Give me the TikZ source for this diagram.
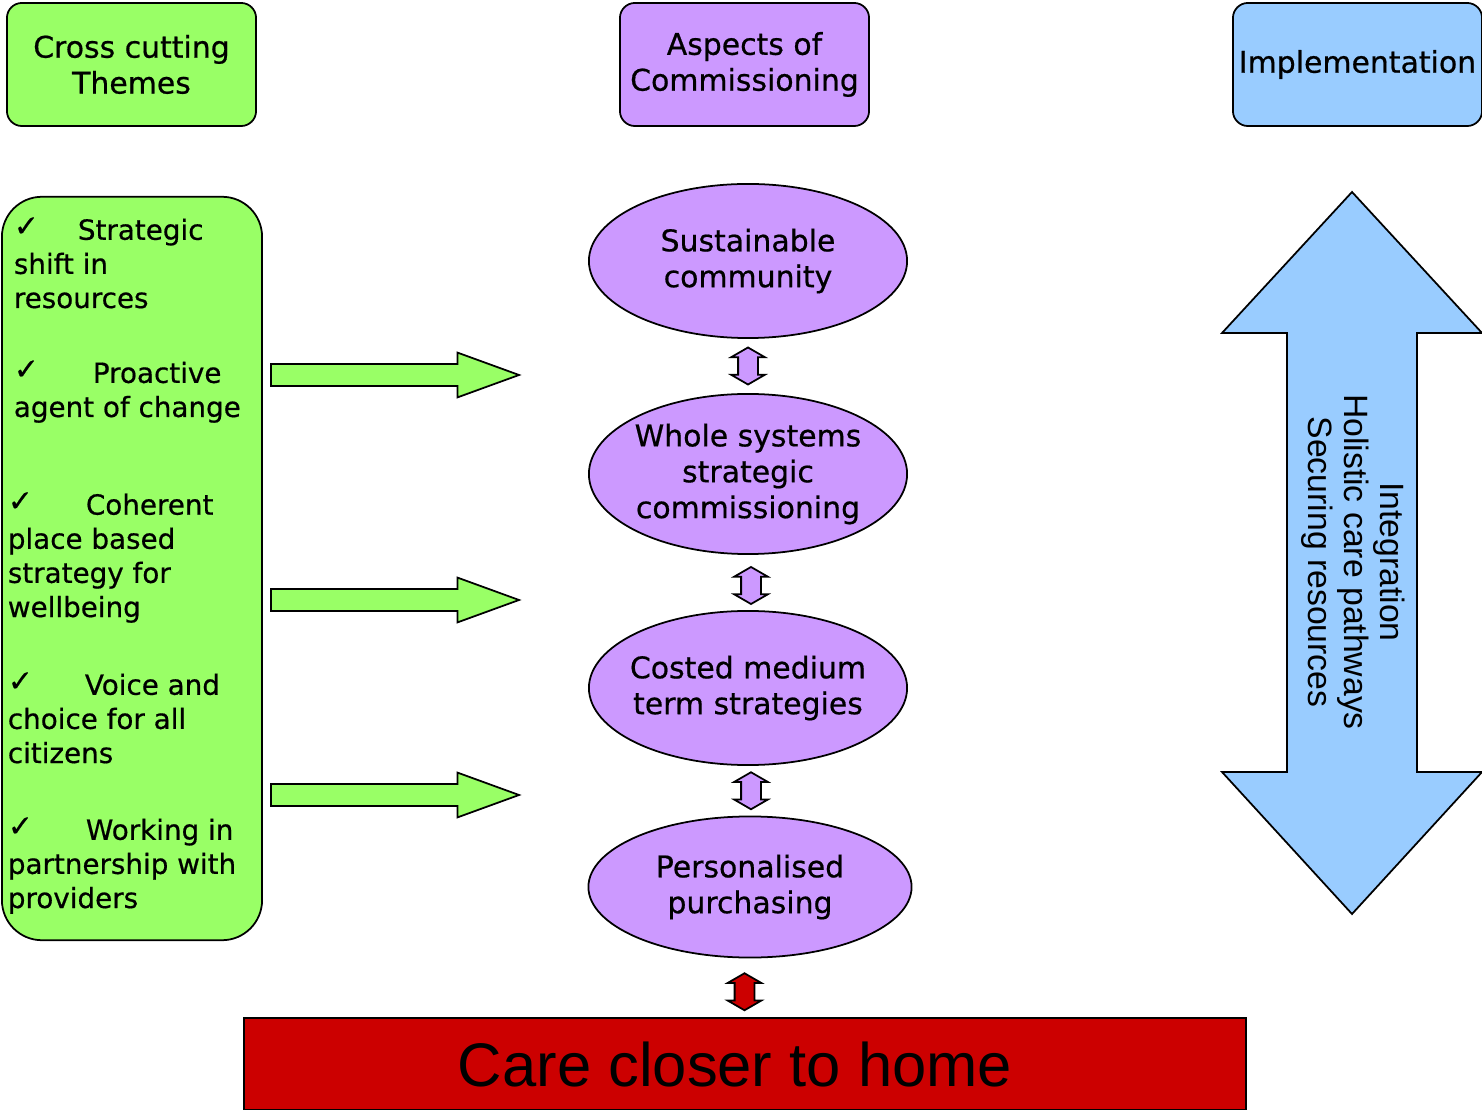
\documentclass[tikz,border=0pt]{standalone}
\usepackage{fontspec}
\setmainfont{DejaVu Sans}[FakeBold=0.6]
\newfontfamily\arialfont{Liberation Sans}
\usetikzlibrary{positioning,shapes.geometric,shapes.arrows,calc}
\definecolor{themegreen}{RGB}{153,255,102}
\definecolor{aspectpurple}{RGB}{204,153,255}
\definecolor{implblue}{RGB}{153,204,255}
\definecolor{carered}{RGB}{204,0,0}
\newcommand{\boxfont}{\fontsize{8.5}{10.2}\selectfont}
\newcommand{\listfont}{\fontsize{7.9}{9.7}\selectfont}
\newcommand{\tickmark}[1]{\makebox[#1][l]{\raisebox{1pt}{\fontsize{8.5}{9.7}\selectfont ✓}}}
\tikzset{
  header/.style={draw, rounded corners=0.15cm, minimum width=2.49cm, minimum height=1.23cm, align=center, font=\boxfont, inner sep=0pt},
  aspect/.style={ellipse, draw, fill=aspectpurple, minimum width=3.18cm, minimum height=1.54cm, align=center, font=\boxfont, inner xsep=-0.06cm, inner ysep=0pt},
  theme/.style={anchor=base west, inner sep=0pt, align=left, font=\listfont},
  feed/.style={single arrow, draw, fill=themegreen, anchor=tail, minimum height=2.48cm, inner sep=0.1cm, single arrow head extend=0.115cm, single arrow tip angle=40},
  link/.style={double arrow, draw, fill=aspectpurple, rotate=90, minimum height=0.37cm, inner sep=0.09cm, double arrow head extend=0.07cm, double arrow tip angle=120}
}

\begin{document}
\begin{tikzpicture}[x=0.01cm, y=-0.01cm, line width=0.5pt]
\useasboundingbox (0,0) rectangle (1482,1110);
\node[header, fill=themegreen] (cross) at (131.5,64.5) {Cross cutting\\Themes};
\node[header, fill=aspectpurple] (aspects) at (744.5,64.5) {Aspects of\\Commissioning};
\node[header, fill=implblue] (impl) at (1357.5,64.5) {Implementation};

\node[draw, fill=themegreen, rounded corners=0.4cm, minimum width=2.6cm, minimum height=7.43cm] (themes) at (132,568.5) {};
\node[theme] (shift) at (13,308) {\tickmark{0.64cm}Strategic\\shift in\\resources};
\node[theme] (agent) at (13,417) {\tickmark{0.79cm}Proactive\\agent of change};
\node[theme] (place) at (7,617) {\tickmark{0.78cm}Coherent\\place based\\strategy for\\wellbeing};
\node[theme] (voice) at (7,763) {\tickmark{0.77cm}Voice and\\choice for all\\citizens};
\node[theme] (partner) at (7,908) {\tickmark{0.78cm}Working in\\partnership with\\providers};

\node[feed] (feed1) at (270,375) {};
\node[feed] (feed2) at (270,600) {};
\node[feed] (feed3) at (270,795) {};

\node[aspect] (sust) at (748,261) {Sustainable\\community};
\node[aspect, minimum height=1.6cm] (whole) at (748,474) {Whole systems\\strategic\\commissioning};
\node[aspect] (costed) at (748,688) {Costed medium\\term strategies};
\node[aspect, minimum width=3.23cm, minimum height=1.41cm] (purch) at (750,887) {Personalised\\purchasing};

\node[draw, fill=carered, minimum width=10.02cm, minimum height=0.92cm, inner sep=0pt, font=\arialfont\fontsize{17.5}{20}\selectfont] (care) at (745,1064) {Care closer to home\hspace*{0.2cm}};

\node[link] (link1) at ($(sust.south)!0.5!(whole.north)$) {};
\node[link] (link2) at ($(whole.south)!0.5!(costed.north)+(3,3)$) {};
\node[link] (link3) at ($(costed.south)!0.5!(purch.north)+(2,0)$) {};
\node[link, fill=carered] (link4) at ($(purch.south)!0.5!(care.north)+(-3,4)$) {};

\draw[fill=implblue] (1352,192) -- (1482,333) -- (1417,333) -- (1417,772) -- (1482,772) -- (1352,914) -- (1222,772) -- (1287,772) -- (1287,333) -- (1222,333) -- cycle;
\node[rotate=-90, align=center, font=\arialfont\fontsize{9.6}{10.3}\selectfont] (pathways) at (1353,562) {Integration\\Holistic care pathways\\Securing resources};
\end{tikzpicture}
\end{document}
